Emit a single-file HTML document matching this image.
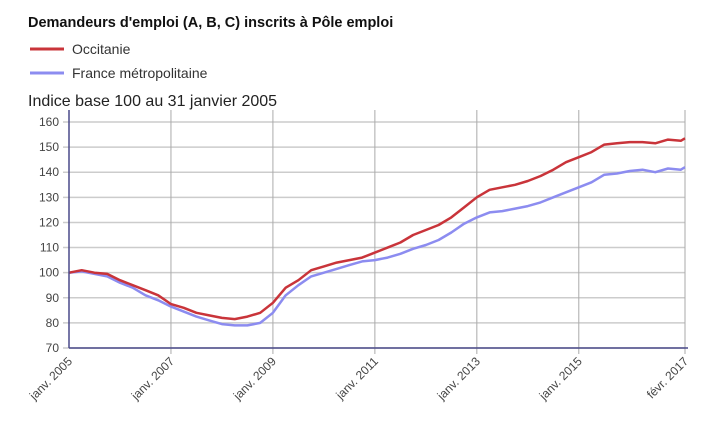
<!DOCTYPE html>
<html><head><meta charset="utf-8"><style>
body{margin:0;background:#fff;font-family:"Open Sans","Liberation Sans",sans-serif;}
#wrap{position:relative;width:724px;height:433px;overflow:hidden}
</style></head><body>
<div id="wrap">
<svg id="svg" width="724" height="433" xmlns="http://www.w3.org/2000/svg">
<text x="28" y="27" font-size="14.5" font-weight="bold" fill="#111" font-family="Liberation Sans, sans-serif">Demandeurs d'emploi (A, B, C) inscrits à Pôle emploi</text>
<g><line x1="30" x2="64" y1="49" y2="49" stroke="#c9343a" stroke-width="3"/><text x="72" y="54" font-size="14" fill="#333" font-family="Liberation Sans, sans-serif">Occitanie</text></g>
<g><line x1="30" x2="64" y1="73" y2="73" stroke="#8c8cf0" stroke-width="3"/><text x="72" y="78" font-size="14" fill="#333" font-family="Liberation Sans, sans-serif">France métropolitaine</text></g>
<text x="28" y="106" font-size="16" fill="#222" font-family="Liberation Sans, sans-serif">Indice base 100 au 31 janvier 2005</text>
<g id="grid"></g><g id="series"></g><g id="axes"></g>
</svg></div>
<script>
const months=[0,3,6,9,12,15,18,21,24,27,30,33,36,39,42,45,48,51,54,57,60,63,66,69,72,75,78,81,84,87,90,93,96,99,102,105,108,111,114,117,120,123,126,129,132,135,138,141,144,145];
const occitanie=[100,101,100,99.5,97,95,93,91,87.5,86,84,83,82,81.5,82.5,84,88,94,97,101,102.5,104,105,106,108,110,112,115,117,119,122,126,130,133,134,135,136.5,138.5,141,144,146,148,151,151.5,152,152,151.5,153,152.5,153.5];
const france=[100,100.5,99.5,98.5,96,94,91,89,86.5,84.5,82.5,81,79.5,79,79,80,84,91,95,98.5,100,101.5,103,104.5,105,106,107.5,109.5,111,113,116,119.5,122,124,124.5,125.5,126.5,128,130,132,134,136,139,139.5,140.5,141,140,141.5,141,142];
const yTicks=[70,80,90,100,110,120,130,140,150,160];
const xTickMonths=[0,24,48,72,96,120,145];
const xTickLabels=["janv. 2005","janv. 2007","janv. 2009","janv. 2011","janv. 2013","janv. 2015","févr. 2017"];
const NS="http://www.w3.org/2000/svg";
const x0=69,x1=685,y0=348,y1=122;
const X=m=>x0+m/145*(x1-x0);
const Y=v=>y0-(v-70)/90*(y0-y1);
function mk(t,a,p){const e=document.createElementNS(NS,t);for(const k in a)e.setAttribute(k,a[k]);p.appendChild(e);return e;}
const grid=document.getElementById('grid'),ser=document.getElementById('series'),ax=document.getElementById('axes');
yTicks.forEach(v=>{const l=mk('line',{x1:x0-6,x2:x1,y1:Y(v),y2:Y(v),stroke:'#ccc','stroke-width':1.5},grid);


const t=mk('text',{x:x0-10,y:Y(v)+4,'text-anchor':'end','font-size':12,fill:'#444','font-family':'Liberation Sans, sans-serif'},ax);t.textContent=v;

});
xTickMonths.forEach((m,i)=>{if(i>0){const l=mk('line',{x1:X(m),x2:X(m),y1:y1-12,y2:y0+6,stroke:'#aaa','stroke-width':1},grid);

}
const t=mk('text',{x:X(m)+4,y:y0+14,'text-anchor':'end','font-size':12,fill:'#444','font-family':'Liberation Sans, sans-serif',transform:`rotate(-45 ${X(m)+4} ${y0+14})`},ax);t.textContent=xTickLabels[i];

});
const ya=mk('line',{x1:x0,x2:x0,y1:y1-12,y2:y0,stroke:'#4a4a8a','stroke-width':1.5},ax);


const xa=mk('line',{x1:x0,x2:x1+3,y1:y0,y2:y0,stroke:'#4a4a8a','stroke-width':1.5},ax);


function line(d,c,n){const p=mk('path',{d:d.map((v,i)=>(i?'L':'M')+X(months[i]).toFixed(1)+','+Y(v).toFixed(1)).join(''),fill:'none',stroke:c,'stroke-width':2.5,'stroke-linejoin':'round'},ser);

}
line(france,'#8c8cf0','line-france');
line(occitanie,'#c9343a','line-occitanie');
</script></body></html>
